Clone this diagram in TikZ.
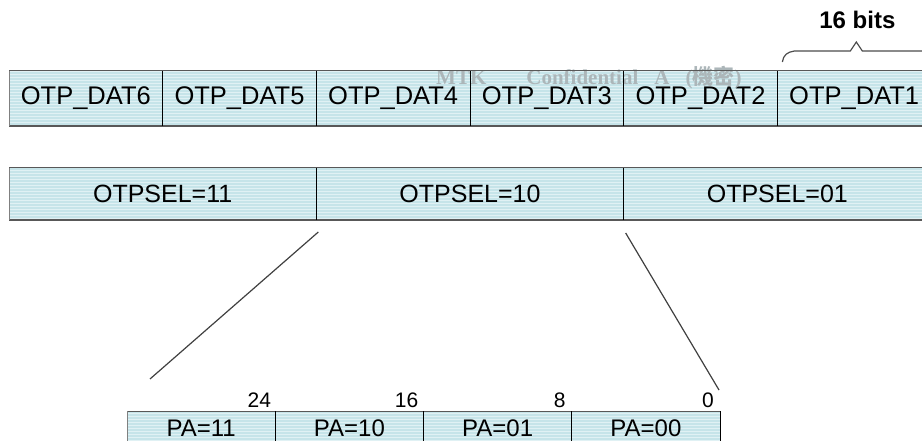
\documentclass[tikz,border=0pt]{standalone}
\usepackage{fontspec}
\setmainfont{Liberation Sans}
\newfontfamily\markfont{Liberation Serif}
\newfontfamily\cjk{Noto Sans CJK TC}
\usetikzlibrary{positioning,calc,patterns}

\definecolor{cellcyan}{RGB}{198,228,233}
\definecolor{stripecyan}{RGB}{224,241,244}
\definecolor{edgegray}{RGB}{88,88,88}
\definecolor{markgray}{RGB}{172,182,185}

\tikzset{
  cellbox/.style={rectangle, inner sep=0pt, outer sep=0pt,
    preaction={fill=cellcyan}, pattern=horizontal lines, pattern color=stripecyan},
  datcell/.style={cellbox, minimum width=153.67pt, minimum height=55pt,
    font=\fontsize{25.5}{26}\selectfont},
  selcell/.style={cellbox, minimum width=307.33pt, minimum height=52pt,
    font=\fontsize{25}{26}\selectfont},
  pacell/.style={cellbox, minimum width=148.25pt, minimum height=34pt,
    font=\fontsize{24}{25}\selectfont},
  divider/.style={black, line width=0.9pt},
  topedge/.style={edgegray, line width=1pt},
  bottomedge/.style={edgegray, line width=2.2pt},
  leftedge/.style={gray, line width=0.8pt},
  bitlabel/.style={inner sep=0pt, font=\fontsize{21}{22}\selectfont},
  zoomline/.style={black!75, line width=1.2pt},
  brace/.style={black!70, line width=1.2pt},
  bitsnote/.style={inner sep=0pt, font=\fontsize{24}{25}\selectfont\bfseries},
  watermark/.style={inner sep=0pt, markgray, font=\fontsize{21}{22}\selectfont\markfont\bfseries}
}

\begin{document}
\begin{tikzpicture}[x=1pt, y=-1pt, node distance=0pt]

    % Fix the frame
    \useasboundingbox (0,0) rectangle (922,441);

    % Row of the six data words
    \node[datcell, anchor=west] (dat6) at (9,98.5) {OTP\_DAT6};
    \node[datcell, right=of dat6] (dat5) {OTP\_DAT5};
    \node[datcell, right=of dat5] (dat4) {OTP\_DAT4};
    \node[datcell, right=of dat4] (dat3) {OTP\_DAT3};
    \node[datcell, right=of dat3] (dat2) {OTP\_DAT2};
    \node[datcell, right=of dat2] (dat1) {OTP\_DAT1};

    % Watermark over the data words
    \node[watermark, anchor=base west] (mark) at (436,85)
      {MTK\hspace{40pt}Confidential\hspace{16pt}A\hspace{16pt}({\cjk 機密})};

    % Edges of the data row
    \draw[topedge] (dat6.north west) -- (dat1.north east);
    \draw[bottomedge] (dat6.south west) -- (dat1.south east);
    \draw[leftedge] (dat6.north west) -- (dat6.south west);
    \foreach \cell in {dat6,dat5,dat4,dat3,dat2}
      \draw[divider] (\cell.north east) -- (\cell.south east);

    % Brace over one word
    \coordinate (braceStart) at ($(dat1.north west)+(5,-9)$);
    \coordinate (braceTip) at ($(dat1.north west)+(79,-29)$);
    \draw[brace] (braceStart) .. controls +(1,-7) and +(-7,1) .. ($(braceStart)+(12,-11)$)
      -- ($(braceTip)+(-6,9)$) -- (braceTip) -- ($(braceTip)+(6,9)$) -- ($(braceTip)+(80,9)$);
    \node[bitsnote] (bitsLabel) at ($(braceTip)+(1,-22)$) {16 bits};

    % Row of the OTPSEL groups
    \node[selcell, anchor=west] (sel11) at (9,194) {OTPSEL=11};
    \node[selcell, right=of sel11] (sel10) {OTPSEL=10};
    \node[selcell, right=of sel10] (sel01) {OTPSEL=01};

    \draw[topedge] (sel11.north west) -- (sel01.north east);
    \draw[bottomedge] (sel11.south west) -- (sel01.south east);
    \draw[leftedge] (sel11.north west) -- (sel11.south west);
    \foreach \cell in {sel11,sel10}
      \draw[divider] (\cell.north east) -- (\cell.south east);

    % Row of the PA bytes
    \node[pacell, anchor=west] (pa11) at (127,428) {PA=11};
    \node[pacell, right=of pa11] (pa10) {PA=10};
    \node[pacell, right=of pa10] (pa01) {PA=01};
    \node[pacell, right=of pa01] (pa00) {PA=00};

    \draw[topedge] (pa11.north west) -- (pa00.north east);
    \draw[leftedge] (pa11.north west) -- (pa11.south west);
    \foreach \cell in {pa11,pa10,pa01,pa00}
      \draw[divider] (\cell.north east) -- (\cell.south east);

    % Bit positions
    \node[bitlabel, anchor=base east] (bit24) at ($(pa11.north east)+(-4,-3.5)$) {24};
    \node[bitlabel, anchor=base east] (bit16) at ($(pa10.north east)+(-5,-3.5)$) {16};
    \node[bitlabel, anchor=base east] (bit8) at ($(pa01.north east)+(-6,-3.5)$) {8};
    \node[bitlabel, anchor=base east] (bit0) at ($(pa00.north east)+(-6,-3.5)$) {0};

    % Lines from OTPSEL=10 down to the PA row
    \coordinate (zoomLtop) at ($(sel11.south east)+(2,12)$);
    \coordinate (zoomLbot) at ($(pa11.north west)+(23,-32)$);
    \coordinate (zoomRtop) at ($(sel10.south east)+(2,13)$);
    \coordinate (zoomRbot) at ($(pa00.north east)+(-1,-21)$);
    \draw[zoomline] (zoomLtop) -- (zoomLbot);
    \draw[zoomline] (zoomRtop) -- (zoomRbot);

\end{tikzpicture}
\end{document}
